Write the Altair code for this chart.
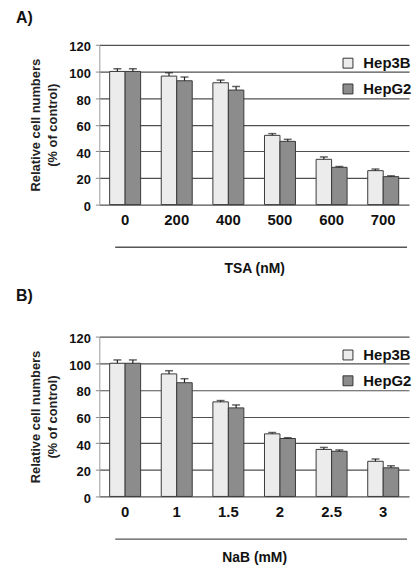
import altair as alt
import pandas as pd

lines = ["Hep3B", "HepG2"]

conc_a = ["0", "200", "400", "500", "600", "700"]
hep3b_a = [100, 96.5, 91.5, 52, 34, 25.5]
hep3b_a_err = [2, 2.5, 2, 1.3, 1.8, 1.2]
hepg2_a = [100, 93, 86, 47.5, 28, 21]
hepg2_a_err = [2, 2.8, 2.7, 1.5, 0.6, 0.6]

conc_b = ["0", "1", "1.5", "2", "2.5", "3"]
hep3b_b = [100, 92, 71, 47, 35.3, 26.4]
hep3b_b_err = [2.5, 2.4, 1, 1, 1.5, 1.7]
hepg2_b = [100, 85.4, 66.5, 43.5, 33.9, 21.5]
hepg2_b_err = [2.5, 3, 2.2, 0.6, 1, 1.5]

y_ticks = [0, 20, 40, 60, 80, 100, 120]

FONT = "Liberation Sans"


def build_df(cats, v1, e1, v2, e2):
    rows = []
    for c, a, ea, b, eb in zip(cats, v1, e1, v2, e2):
        rows.append({"conc": c, "line": lines[0], "value": a, "upper": a + ea})
        rows.append({"conc": c, "line": lines[1], "value": b, "upper": b + eb})
    return pd.DataFrame(rows)


def panel(df, cats, xtitle, label, title_offset, xtitle_pad):
    base = alt.Chart(df)
    x = alt.X(
        "conc:N",
        sort=cats,
        scale=alt.Scale(paddingInner=0.4, paddingOuter=0.2),
        axis=alt.Axis(
            title=xtitle, labelAngle=0, ticks=False, domain=False, grid=False,
            labelPadding=8, labelFontSize=15, labelFontWeight="bold",
            labelColor="#111", labelFont=FONT,
            titlePadding=xtitle_pad, titleFontSize=14, titleFontWeight="bold",
            titleColor="#111", titleFont=FONT,
        ),
    )
    xo = alt.XOffset("line:N", sort=lines, scale=alt.Scale(paddingInner=0, paddingOuter=0))
    yscale = alt.Scale(domain=[0, 120], nice=False, zero=True)
    yaxis = alt.Axis(
        values=y_ticks, title=["Relative cell numbers", "(% of control)"],
        grid=True, gridColor="#505050", gridWidth=1.2, labelOverlap=False,
        domainColor="#999", tickColor="#888", tickSize=4,
        labelFontSize=13, labelFontWeight="bold", labelColor="#111",
        labelFont=FONT, labelPadding=5, labelOffset=2,
        titleFontSize=13, titleFontWeight="bold", titleColor="#222",
        titleFont=FONT, titlePadding=9, titleLineHeight=18,
    )
    color = alt.Color(
        "line:N",
        sort=lines,
        scale=alt.Scale(domain=lines, range=["#ececec", "#8c8c8c"]),
        legend=alt.Legend(
            title=None, orient="none", legendX=243, legendY=11,
            symbolType="square", symbolSize=100, symbolStrokeColor="#333",
            symbolStrokeWidth=1, symbolOpacity=1,
            labelFontSize=15, labelFontWeight="bold", labelFont=FONT,
            labelColor="#111", rowPadding=10, labelOffset=8,
        ),
    )
    bars = base.mark_bar(stroke="#3a3a3a", strokeWidth=1, opacity=1).encode(
        x=x, xOffset=xo,
        y=alt.Y("value:Q", scale=yscale, axis=yaxis),
        color=color,
    )
    err = base.mark_rule(color="#222", strokeWidth=1.2).encode(
        x=x, xOffset=xo,
        y=alt.Y("value:Q", scale=yscale, axis=yaxis),
        y2="upper:Q",
    )
    cap = base.mark_tick(color="#222", size=8, thickness=1.5).encode(
        x=x, xOffset=xo,
        y=alt.Y("upper:Q", scale=yscale, axis=yaxis),
    )
    under = alt.Chart(alt.Data(values=[{"k": 1}])).mark_rule(
        color="#555", strokeWidth=1.5
    ).encode(x=alt.value(16), x2=alt.value(310), y=alt.value(204))
    return alt.layer(bars, err, cap, under).properties(
        width=312, height=161,
        title=alt.TitleParams(
            label, anchor="start", frame="group", dx=-84, offset=title_offset,
            fontSize=16, fontWeight="bold", font=FONT, color="#111",
        ),
    ).resolve_scale(color="independent")


df_a = build_df(conc_a, hep3b_a, hep3b_a_err, hepg2_a, hepg2_a_err)
df_b = build_df(conc_b, hep3b_b, hep3b_b_err, hepg2_b, hepg2_b_err)

chart = alt.vconcat(
    panel(df_a, conc_a, "TSA (nM)", "A)", 15, 34),
    panel(df_b, conc_b, "NaB (mM)", "B)", 29, 32),
    spacing=13,
).resolve_legend(color="independent").configure(
    padding={"left": 8, "top": 0, "right": 0, "bottom": -2},
    background="white",
).configure_view(stroke=None)

chart.save("out.html", embed_options={"renderer": "svg", "actions": False})
